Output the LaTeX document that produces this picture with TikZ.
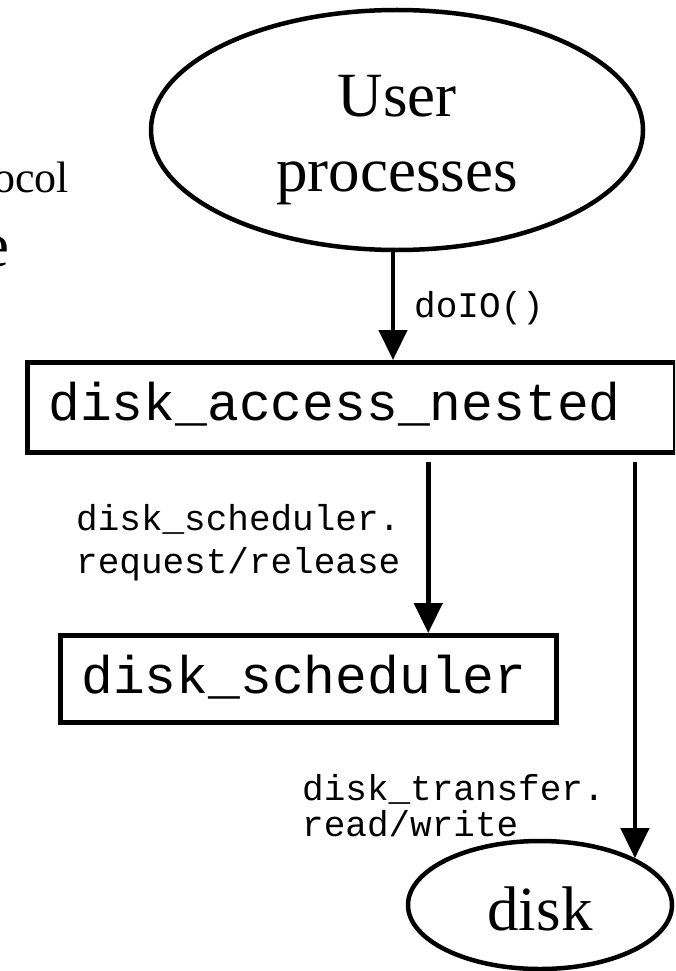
\documentclass[tikz,border=0pt]{standalone}
\usepackage{fontspec}
\setmainfont{Liberation Serif}
\setmonofont{Liberation Mono}
\usetikzlibrary{arrows.meta,shapes.geometric}
\begin{document}
\begin{tikzpicture}[x=1pt,y=-1pt,
  lw/.style={line width=4.5pt},
  conn/.style={lw,-{Triangle[width=28pt,length=30pt]}},
  boxshape/.style={draw,lw,rectangle,inner sep=0pt,anchor=north west},
  ellshape/.style={draw,lw,ellipse,inner sep=0pt},
  bigserif/.style={font=\fontsize{63}{75}\selectfont,inner sep=0pt},
  bigmono/.style={font=\ttfamily\fontsize{53}{60}\selectfont,inner sep=0pt,anchor=base west},
  smallmono/.style={font=\ttfamily\fontsize{36}{43}\selectfont,inner sep=0pt,anchor=base west}]
\useasboundingbox (0,0) rectangle (675,971);
\clip (0,0) rectangle (675,971);

% cut-off slide text on the left
\node[font=\fontsize{44}{50}\selectfont,inner sep=0pt,anchor=base east] (t1) at (69,192) {ocol};
\node[font=\fontsize{63}{70}\selectfont,inner sep=0pt,anchor=base east] (t2) at (10,266) {e};

% user processes
\node[ellshape,minimum width=492pt,minimum height=240pt] (user) at (397,130) {};
\node[bigserif,anchor=base] (userlbl) at (397,117)
  {\begin{tabular}[t]{@{}c@{}}User\\processes\end{tabular}};

% disk_access_nested
\node[boxshape,minimum width=648pt,minimum height=90pt] (dan) at (25,360) {};
\node[bigmono] (dantxt) at (48,420) {disk\_access\_nested};

% disk_scheduler
\node[boxshape,minimum width=496pt,minimum height=87pt] (ds) at (58,633) {};
\node[bigmono] (dstxt) at (81,693) {disk\_scheduler};

% disk
\node[ellshape,minimum width=264pt,minimum height=128pt,
      font=\fontsize{63}{70}\selectfont,text height=50pt,text depth=0pt] (disk) at (540,905) {disk};

% connectors
\draw[conn] (user.south -| 393,0) -- (dan.north -| 393,0);
\draw[conn,shorten <=7pt] ([xshift=77pt]dan.south) -- ([xshift=120pt]ds.north);
\draw[conn,shorten <=7pt] (dan.south -| disk.north east) -- (disk.north east);

% labels
\node[smallmono] (l1) at (414,317) {doIO()};
\node[smallmono] (l2) at (76,530)
  {\begin{tabular}[t]{@{}l@{}}disk\_scheduler.\\request/release\end{tabular}};
\node[smallmono,font=\ttfamily\fontsize{36}{34}\selectfont] (l3) at (302,800)
  {\begin{tabular}[t]{@{}l@{}}disk\_transfer.\\read/write\end{tabular}};
\end{tikzpicture}
\end{document}
